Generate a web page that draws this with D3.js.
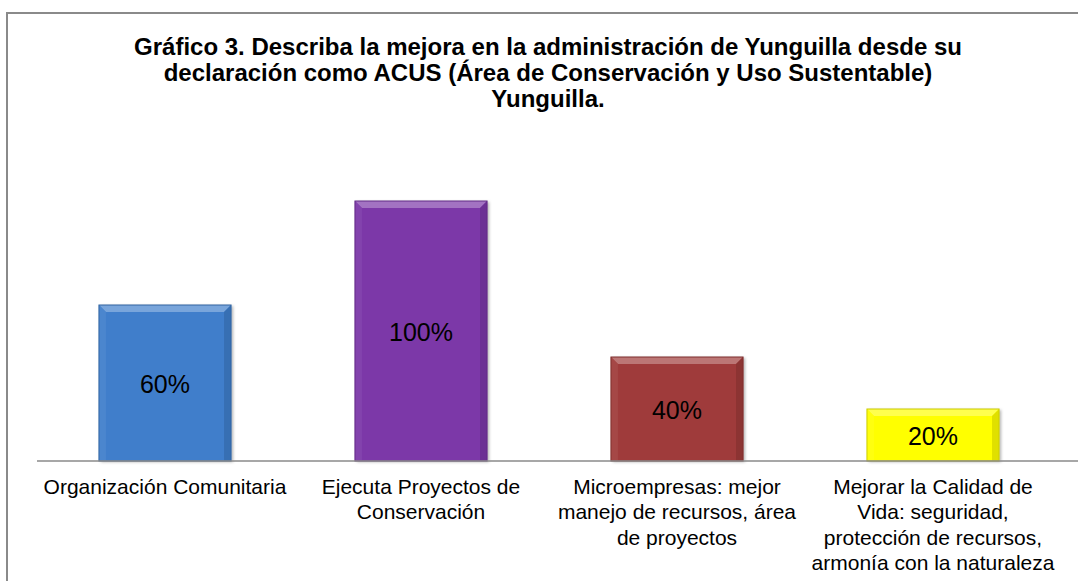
<!DOCTYPE html>
<html><head><meta charset="utf-8">
<script src="https://cdn.jsdelivr.net/npm/d3@7"></script>
<style>body{margin:0;background:#fff}svg{display:block;font-family:"Liberation Sans",Arial,sans-serif}</style>
</head><body><svg id="c" width="1078" height="581"></svg>
<script>
const categories = [
  ["Organización Comunitaria"],
  ["Ejecuta Proyectos de", "Conservación"],
  ["Microempresas: mejor", "manejo de recursos, área", "de proyectos"],
  ["Mejorar la Calidad de", "Vida: seguridad,", "protección de recursos,", "armonía con la naturaleza"]
];
const values = [60, 100, 40, 20];
const valueLabels = ["60%", "100%", "40%", "20%"];
const colors = ["#3f7ecb", "#7b37a8", "#9f3b3a", "#ffff00"];
const titleLines = [
  "Gráfico 3. Describa la mejora en la administración de Yunguilla desde su",
  "declaración como ACUS (Área de Conservación y Uso Sustentable)",
  "Yunguilla."
];

const svg = d3.select("#c");
svg.append("path").attr("d","M7,581 V13 H1078").attr("fill","none").attr("stroke","#8a8a8a").attr("stroke-width",2);

svg.append("g").selectAll("text").data(titleLines).join("text")
  .attr("x", 548).attr("y", (d,i)=>55+i*26)
  .attr("text-anchor","middle").attr("font-weight","bold").attr("font-size",24)
  .attr("fill","#000").text(d=>d);

const x = d3.scaleBand().domain(d3.range(values.length)).range([37, 1061]).paddingInner(0.484).paddingOuter(0.242);
const y = d3.scaleLinear().domain([0, 100]).range([461, 201]);

const defs = svg.append("defs");
const f = defs.append("filter").attr("id","sh").attr("x","-10%").attr("y","-10%").attr("width","130%").attr("height","130%");
f.append("feDropShadow").attr("dx",2).attr("dy",1).attr("stdDeviation",1.5).attr("flood-color","#000").attr("flood-opacity",0.3);

const bars = svg.append("g").selectAll("g").data(values).join("g");
bars.each(function(v,i){
  const g = d3.select(this);
  const x0 = x(i), w = x.bandwidth(), y0 = y(v), h = y(0)-y(v);
  const c = d3.color(colors[i]);
  const b = 7;
  g.append("rect").attr("x",x0).attr("y",y0).attr("width",w).attr("height",h)
    .attr("fill",c.formatHex()).attr("filter","url(#sh)");
  const lighter = d3.interpolateRgb(c, "#fff")(0.3);
  const darker = d3.interpolateRgb(c, "#000")(0.12);
  const darker2 = d3.interpolateRgb(c, "#000")(0.2);
  g.append("path").attr("d",`M${x0},${y0} H${x0+w} L${x0+w-b},${y0+b} H${x0+b} Z`).attr("fill",lighter);
  g.append("path").attr("d",`M${x0},${y0} L${x0+b},${y0+b} V${y0+h} H${x0} Z`).attr("fill",d3.interpolateRgb(c,"#fff")(0.06));
  g.append("path").attr("d",`M${x0+w},${y0} L${x0+w-b},${y0+b} V${y0+h} H${x0+w} Z`).attr("fill",darker);
  g.append("rect").attr("x",x0).attr("y",y0).attr("width",w).attr("height",h)
    .attr("fill","none").attr("stroke",darker2).attr("stroke-width",1);
  g.append("text").attr("x",x0+w/2).attr("y",y0+h/2+10).attr("text-anchor","middle")
    .attr("font-size",25).attr("fill","#000").text(valueLabels[i]);
});

const ax = svg.append("g").attr("transform","translate(0,461)")
  .call(d3.axisBottom(x).tickSize(0).tickFormat(""));
ax.select(".domain").attr("stroke","#8a8a8a").attr("stroke-width",1.5).attr("d","M37,0H1078");

const lab = svg.append("g");
categories.forEach((lines,i)=>{
  lab.append("text").attr("x", x(i)+x.bandwidth()/2).attr("y",494).attr("text-anchor","middle")
    .attr("font-size",21).attr("fill","#000")
    .selectAll("tspan").data(lines).join("tspan")
    .attr("x", x(i)+x.bandwidth()/2).attr("dy",(d,j)=>j===0?0:25.3).text(d=>d);
});
</script></body></html>
